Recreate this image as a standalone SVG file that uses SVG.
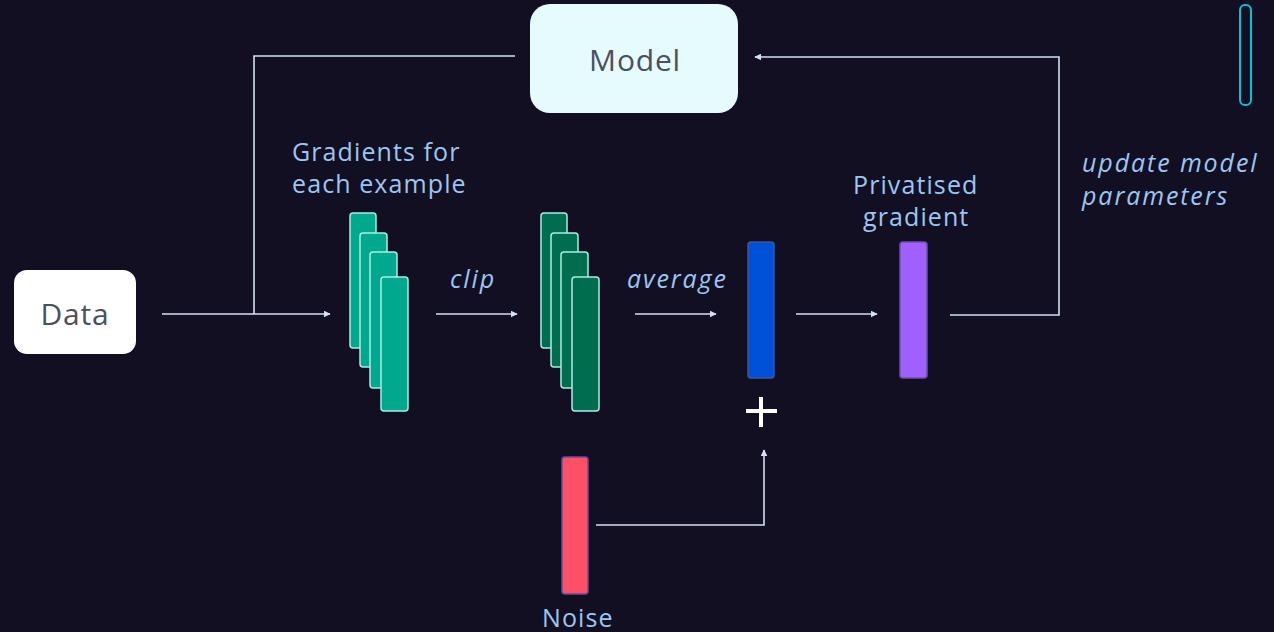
<svg xmlns="http://www.w3.org/2000/svg" width="1274" height="632" viewBox="0 0 1274 632">
<defs>
<marker id="ah" viewBox="0 0 10 10" refX="9" refY="5" markerWidth="7" markerHeight="7" markerUnits="userSpaceOnUse" orient="auto">
<path d="M0,0 L10,5 L0,10 z" fill="#d4e0f5"/>
</marker>
<style>
.lbl{font-family:"Open Sans","Liberation Sans",sans-serif;font-size:25px;fill:#9cc6f4;letter-spacing:1.1px}
.it{font-style:italic;letter-spacing:1.9px}
.box{font-family:"Open Sans","Liberation Sans",sans-serif;font-size:30px;fill:#4b4f5e;text-anchor:middle;letter-spacing:0.8px}
.con{fill:none;stroke:#d4e0f5;stroke-width:1.6}
.g1{fill:#00a88e;stroke:#a8eee4;stroke-width:1.5}
.g2{fill:#006d4e;stroke:#a8eee4;stroke-width:1.5}
</style>
</defs>
<rect width="1274" height="632" fill="#120f22"/>

<g id="connectors">
<line class="con" x1="162" y1="314" x2="330" y2="314" marker-end="url(#ah)"/>
<polyline class="con" points="254,314 254,56 515,56"/>
<line class="con" x1="436" y1="314" x2="517" y2="314" marker-end="url(#ah)"/>
<line class="con" x1="635" y1="314" x2="716" y2="314" marker-end="url(#ah)"/>
<line class="con" x1="796" y1="314" x2="877" y2="314" marker-end="url(#ah)"/>
<polyline class="con" points="950,315 1059,315 1059,57 755,57" marker-end="url(#ah)"/>
<polyline class="con" points="596,525 764,525 764,450" marker-end="url(#ah)"/>
</g>

<g id="data">
<rect x="14" y="270" width="122" height="84" rx="13" fill="#ffffff"/>
<text class="box" x="75" y="325">Data</text>
</g>

<g id="model">
<rect x="530" y="4" width="208" height="109" rx="20" fill="#e6fbfd"/>
<text class="box" x="635" y="71">Model</text>
</g>

<g id="gradients">
<text class="lbl" x="292" y="161">Gradients for</text>
<text class="lbl" x="292" y="193">each example</text>
<rect class="g1" x="350" y="213" width="26" height="135" rx="3"/>
<rect class="g1" x="360" y="233" width="27" height="134" rx="3"/>
<rect class="g1" x="370" y="252" width="27" height="136" rx="3"/>
<rect class="g1" x="381" y="277" width="27" height="134" rx="3"/>
</g>

<g id="clip-label">
<text class="lbl it" x="450" y="288">clip</text>
</g>

<g id="clipped">
<rect class="g2" x="541" y="213" width="26" height="135" rx="3"/>
<rect class="g2" x="551" y="233" width="27" height="134" rx="3"/>
<rect class="g2" x="561" y="252" width="27" height="136" rx="3"/>
<rect class="g2" x="572" y="277" width="27" height="134" rx="3"/>
</g>

<g id="average-label">
<text class="lbl it" x="627" y="288">average</text>
</g>

<g id="averaged">
<rect x="748" y="242" width="26" height="136" rx="3" fill="#0050d8" stroke="#3f56a0" stroke-width="1.5"/>
</g>

<g id="plus">
<path d="M761,397 V427 M746,411 H777" stroke="#ffffff" stroke-width="4" fill="none"/>
</g>

<g id="noise">
<rect x="562" y="457" width="26" height="137" rx="3" fill="#ff5068" stroke="#6a4c9c" stroke-width="1.5"/>
<text class="lbl" x="542" y="627">Noise</text>
</g>

<g id="privatised">
<text class="lbl" x="853" y="194">Privatised</text>
<text class="lbl" x="863" y="226">gradient</text>
<rect x="900" y="242" width="27" height="136" rx="3" fill="#a060ff" stroke="#6c50b0" stroke-width="1.5"/>
</g>

<g id="update-label">
<text class="lbl it" x="1082" y="172">update model</text>
<text class="lbl it" x="1082" y="205">parameters</text>
</g>

<g id="indicator">
<rect x="1240" y="5" width="11" height="100" rx="5" fill="none" stroke="#00c4d4" stroke-width="2"/>
</g>
</svg>
